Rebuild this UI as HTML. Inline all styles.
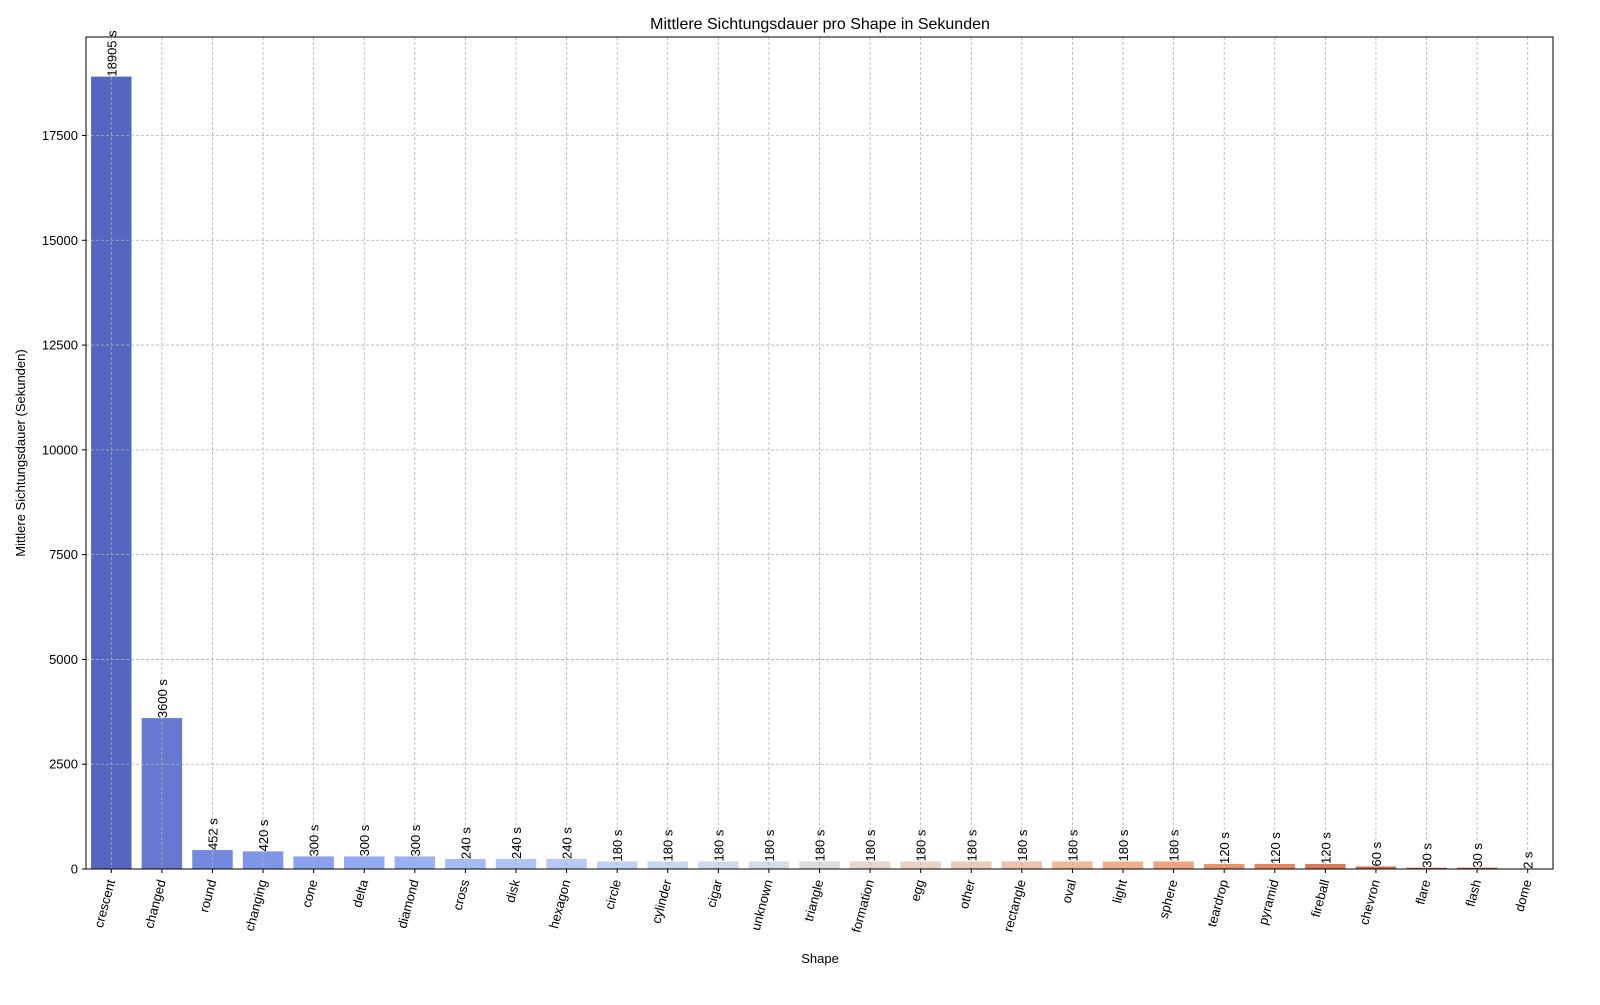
<!DOCTYPE html>
<html><head><meta charset="utf-8"><style>
body{margin:0;background:#fff;font-family:"Liberation Sans","DejaVu Sans",sans-serif}
</style></head><body>
<svg id="chart" width="1600" height="1000" xmlns="http://www.w3.org/2000/svg" font-family="Liberation Sans, DejaVu Sans, sans-serif"></svg>
<script>
const categories=["crescent","changed","round","changing","cone","delta","diamond","cross","disk","hexagon","circle","cylinder","cigar","unknown","triangle","formation","egg","other","rectangle","oval","light","sphere","teardrop","pyramid","fireball","chevron","flare","flash","dome"];
const values=[18905,3600,452,420,300,300,300,240,240,240,180,180,180,180,180,180,180,180,180,180,180,180,120,120,120,60,30,30,2];
const colors=["#5466c0","#6678d0","#7389e0","#7f96e8","#8aa2ee","#90a9f1","#98b1f3","#a4bcf5","#aec4f6","#b6caf5","#c0d1f3","#c9d6f0","#d0daea","#d6dce4","#dcdcdc","#e2d8d1","#e7d2c6","#ebcbba","#eec2ac","#efb99d","#eeaf8e","#eba380","#e59671","#de8865","#d67a5b","#cd6a51","#c35a48","#b84a3e","#ab3c36"];
const yTicks=[0,2500,5000,7500,10000,12500,15000,17500];
const L=86,R=1553,T=37,B=869,yMax=19850;
const svg=document.getElementById('chart');const NS="http://www.w3.org/2000/svg";
const n=categories.length,step=(R-L)/n;
const xc=i=>L+step*(i+0.5);
const y=v=>B-v/yMax*(B-T);
function mk(tag,attrs,parent){const e=document.createElementNS(NS,tag);for(const k in attrs)e.setAttribute(k,attrs[k]);(parent||svg).appendChild(e);return e;}
// bars
values.forEach((v,i)=>{const r=mk('rect',{x:xc(i)-step*0.4,y:y(v),width:step*0.8,height:B-y(v),fill:colors[i]});

});
// grid
const g=mk('g',{stroke:'#b0b0b0','stroke-width':0.8,'stroke-dasharray':'3,2'});


categories.forEach((c,i)=>mk('line',{x1:xc(i),x2:xc(i),y1:T,y2:B},g));
yTicks.forEach(t=>mk('line',{x1:L,x2:R,y1:y(t),y2:y(t)},g));
// value labels
values.forEach((v,i)=>{const tx=mk('text',{x:0,y:0,'font-size':13,transform:`translate(${xc(i)+5},${y(v)}) rotate(-90)`});tx.textContent=v+' s';

});
// frame
const fr=mk('rect',{x:L,y:T,width:R-L,height:B-T,fill:'none',stroke:'#000','stroke-width':1});


// x ticks
categories.forEach((c,i)=>{mk('line',{x1:xc(i),x2:xc(i),y1:B,y2:B+4,stroke:'#000'});
const tx=mk('text',{x:0,y:0,'font-size':13,'text-anchor':'end',transform:`translate(${xc(i)+4},${B+12}) rotate(-75)`});tx.textContent=c;

});
// y ticks
yTicks.forEach(t=>{mk('line',{x1:L-4,x2:L,y1:y(t),y2:y(t),stroke:'#000'});
const tx=mk('text',{x:L-8,y:y(t)+4.5,'font-size':13,'text-anchor':'end'});tx.textContent=t;

});
let t=mk('text',{x:820,y:29,'font-size':16,'text-anchor':'middle'});t.textContent='Mittlere Sichtungsdauer pro Shape in Sekunden';


t=mk('text',{x:820,y:963,'font-size':13,'text-anchor':'middle'});t.textContent='Shape';


t=mk('text',{x:0,y:0,'font-size':13,'text-anchor':'middle',transform:'translate(25,453) rotate(-90)'});t.textContent='Mittlere Sichtungsdauer (Sekunden)';


</script>
</body></html>
